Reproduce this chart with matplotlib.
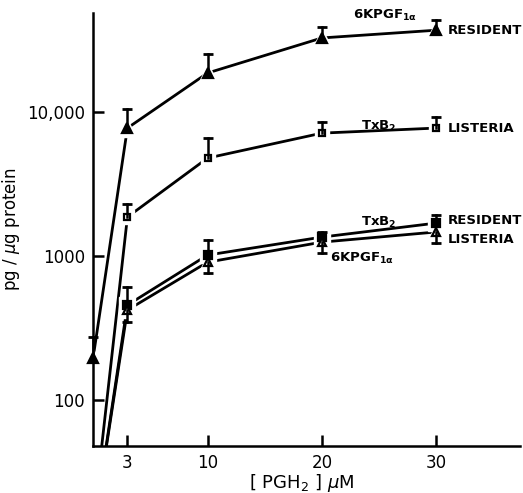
import matplotlib
matplotlib.use("Agg")
import matplotlib.pyplot as plt
import numpy as np

# Data
x_res6k = [0, 3, 10, 20, 30]
y_res6k = [196, 7740, 18660, 32700, 37000]
err_res6k = [79, 2760, 6540, 6300, 6600]

x_listx = [0, 3, 10, 20, 30]
y_listx = [14, 1866, 4790, 7140, 7740]
err_listx = [0, 430, 1810, 1360, 1460]

x_restx = [0, 3, 10, 20, 30]
y_restx = [12, 457, 1016, 1355, 1695]
err_restx_hi = [0, 150, 270, 110, 240]

x_list6k = [0, 3, 10, 20, 30]
y_list6k = [12, 422, 907, 1250, 1470]
err_list6k_lo = [0, 74, 145, 200, 240]

xticks = [3, 10, 20, 30]
yticks = [100, 1000, 10000]
ytick_labels = ["100", "1000", "10,000"]

plt.rcParams['font.family'] = ['DejaVu Sans']
fig = plt.figure(figsize=(5.23, 4.93), dpi=100)
ax = fig.add_axes([0.178, 0.0953, 0.816, 0.8783])
ax.set_yscale('log')
ax.set_xlim(0, 37.3)
ax.set_ylim(48, 48700)

lw = 2.0
def series(x, y, marker, face, ms):
    ax.plot(x, y, '-', color='black', lw=lw, zorder=2, clip_on=True)
    ax.plot(x, y, linestyle='none', marker=marker, ms=ms + 5, mfc='white', mec='white', zorder=3, clip_on=True)
    ax.plot(x, y, linestyle='none', marker=marker, ms=ms, mfc=face, mec='black', mew=1.6, zorder=4, clip_on=False)

def ebar(x, y, lo, hi):
    for xi, yi, l, h in zip(x, y, lo, hi):
        if yi < 48:
            continue
        if h > 0:
            ax.plot([xi, xi], [yi, yi + h], color='black', lw=1.8, zorder=5, clip_on=False)
            ax.plot([xi], [yi + h], marker='_', ms=7, mew=2, color='black', zorder=5, clip_on=False)
        if l > 0:
            ax.plot([xi, xi], [yi - l, yi], color='black', lw=1.8, zorder=5, clip_on=False)
            ax.plot([xi], [yi - l], marker='_', ms=7, mew=2, color='black', zorder=5, clip_on=False)

series(x_res6k, y_res6k, '^', 'black', 7.5)
series(x_listx, y_listx, 's', 'white', 5)
series(x_restx, y_restx, 's', 'black', 6)
series(x_list6k, y_list6k, '^', 'white', 6)
ebar(x_res6k, y_res6k, [0]*5, err_res6k)
ebar(x_listx, y_listx, [0]*5, err_listx)
ebar(x_restx, y_restx, [0]*5, err_restx_hi)
ebar(x_list6k, y_list6k, err_list6k_lo, [0]*5)

for s in ['top', 'right']:
    ax.spines[s].set_visible(False)
for s in ['left', 'bottom']:
    ax.spines[s].set_linewidth(1.8)
    ax.spines[s].set_zorder(6)

ax.set_xticks(xticks)
ax.set_xticklabels([str(v) for v in xticks])
ax.set_yticks(yticks)
ax.set_yticklabels(ytick_labels)
ax.minorticks_off()
ax.tick_params(axis='both', direction='in', length=8, width=1.8, labelsize=12, pad=6)

ax.set_ylabel(r'pg / $\mu$g protein', fontsize=12)
ax.yaxis.set_label_coords(-0.166, 0.5)
ax.set_xlabel(r'[ PGH$_2$ ] $\mu$M', fontsize=13)
ax.xaxis.set_label_coords(0.49, -0.06)

tk = dict(fontsize=9.5, fontweight='bold', va='center')
ax.text(25.5, 46500, r'6KPGF$_{\mathbf{1\alpha}}$', ha='center', **tk)
ax.text(31.0, 37000, 'RESIDENT', ha='left', **tk)
ax.text(25.0, 7900, r'TxB$_\mathbf{2}$', ha='center', **tk)
ax.text(31.0, 7700, 'LISTERIA', ha='left', **tk)
ax.text(25.0, 1700, r'TxB$_\mathbf{2}$', ha='center', **tk)
ax.text(31.0, 1760, 'RESIDENT', ha='left', **tk)
ax.text(31.0, 1310, 'LISTERIA', ha='left', **tk)
ax.text(23.5, 960, r'6KPGF$_{\mathbf{1\alpha}}$', ha='center', **tk)

fig.savefig('out.png', dpi=100)
